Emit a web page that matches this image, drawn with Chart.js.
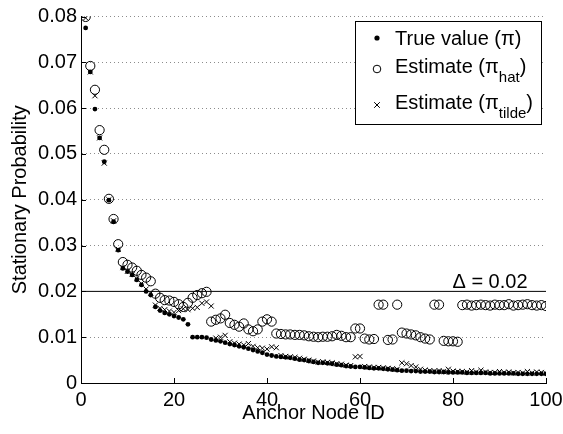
<!DOCTYPE html>
<html>
<head>
<meta charset="utf-8">
<script src="https://cdn.jsdelivr.net/npm/chart.js@4.4.0/dist/chart.umd.min.js"></script>
<style>
html,body{margin:0;padding:0;background:#fff;}
#wrap{width:563px;height:434px;}
</style>
</head>
<body>
<div id="wrap"><canvas id="c" width="563" height="434"></canvas></div>
<script>
// ---- data ----
const nodeIds = Array.from({length: 100}, (_, i) => i + 1);
const trueValue = [
0.0775,0.0679,0.0598,0.0535,0.0483,0.0399,0.0352,0.0290,0.0250,0.0243,
0.0236,0.0225,0.0214,0.0200,0.0192,0.0166,0.0158,0.0153,0.0150,0.0146,
0.0143,0.0139,0.0128,0.0100,0.0100,0.0100,0.0099,0.0095,0.0093,0.0091,
0.0088,0.0085,0.0083,0.0080,0.0078,0.0075,0.0072,0.0069,0.0066,0.0062,
0.0060,0.0058,0.0057,0.0056,0.0055,0.0053,0.0051,0.0050,0.0048,0.0046,
0.0044,0.0044,0.0043,0.0042,0.0040,0.0039,0.0037,0.0036,0.0035,0.0035,
0.0034,0.0033,0.0032,0.0032,0.0031,0.0030,0.0029,0.0028,0.0027,0.0027,
0.0026,0.0026,0.0025,0.0025,0.0025,0.0024,0.0024,0.0024,0.0023,0.0023,
0.0023,0.0023,0.0022,0.0022,0.0022,0.0022,0.0022,0.0021,0.0021,0.0021,
0.0021,0.0021,0.0021,0.0020,0.0020,0.0020,0.0020,0.0020,0.0020,0.0020
];
const estimateHat = [
0.0799,0.0692,0.0640,0.0552,0.0509,0.0402,0.0358,0.0303,0.0264,0.0258,
0.0252,0.0245,0.0236,0.0230,0.0222,0.0195,0.0186,0.0181,0.0180,0.0177,
0.0172,0.0166,0.0175,0.0186,0.0192,0.0196,0.0199,0.0134,0.0138,0.0141,
0.0149,0.0131,0.0127,0.0123,0.0130,0.0117,0.0113,0.0117,0.0134,0.0139,
0.0134,0.0108,0.0107,0.0106,0.0106,0.0105,0.0105,0.0104,0.0102,0.0101,
0.0100,0.0101,0.0101,0.0102,0.0105,0.0103,0.0100,0.0100,0.0119,0.0119,
0.0097,0.0095,0.0096,0.0171,0.0171,0.0094,0.0095,0.0171,0.0110,0.0108,
0.0106,0.0104,0.0100,0.0097,0.0095,0.0171,0.0171,0.0092,0.0091,0.0091,
0.0090,0.0170,0.0171,0.0169,0.0170,0.0171,0.0170,0.0169,0.0171,0.0170,
0.0170,0.0172,0.0169,0.0170,0.0171,0.0172,0.0170,0.0169,0.0170,0.0168
];
const estimateTilde = [
0.0797,0.0679,0.0627,0.0535,0.0480,0.0400,0.0354,0.0292,0.0252,0.0244,
0.0237,0.0228,0.0217,0.0205,0.0196,0.0170,0.0163,0.0160,0.0157,0.0154,
0.0158,0.0162,0.0160,0.0163,0.0165,0.0174,0.0177,0.0168,0.0098,0.0100,
0.0104,0.0090,0.0087,0.0085,0.0083,0.0086,0.0080,0.0077,0.0076,0.0074,
0.0079,0.0077,0.0060,0.0058,0.0057,0.0056,0.0054,0.0052,0.0050,0.0048,
0.0046,0.0046,0.0045,0.0044,0.0042,0.0041,0.0039,0.0038,0.0057,0.0058,
0.0036,0.0035,0.0034,0.0034,0.0033,0.0032,0.0031,0.0030,0.0044,0.0042,
0.0038,0.0035,0.0030,0.0028,0.0027,0.0026,0.0027,0.0025,0.0030,0.0026,
0.0025,0.0025,0.0024,0.0027,0.0024,0.0028,0.0024,0.0023,0.0023,0.0025,
0.0023,0.0024,0.0022,0.0023,0.0022,0.0025,0.0022,0.0024,0.0023,0.0021
];
const deltaValue = 0.02;
const deltaLabel = '\u0394 = 0.02';
const xTicks = [0, 20, 40, 60, 80, 100];
const yTicks = [0, 0.01, 0.02, 0.03, 0.04, 0.05, 0.06, 0.07, 0.08];
const legendLabels = [
  {main: 'True value (\u03c0)', sub: null},
  {main: 'Estimate (\u03c0', sub: 'hat'},
  {main: 'Estimate (\u03c0', sub: 'tilde'}
];

const FONT = '"Liberation Sans", Arial, Helvetica, sans-serif';
const toPts = arr => arr.map((v, i) => ({x: nodeIds[i], y: v}));

// ---- plugins ----
const extras = {
  id: 'extras',
  afterDatasetsDraw(chart) {
    const ctx = chart.ctx;
    const xs = chart.scales.x, ys = chart.scales.y;
    const ca = chart.chartArea;
    ctx.save();
    // inward tick marks
    ctx.strokeStyle = '#000';
    ctx.lineWidth = 1;
    ctx.beginPath();
    yTicks.forEach(v => {
      const py = Math.round(ys.getPixelForValue(v)) + 0.5;
      ctx.moveTo(ca.left, py); ctx.lineTo(ca.left + 5, py);
    });
    xTicks.forEach(v => {
      const px = Math.round(xs.getPixelForValue(v)) + 0.5;
      ctx.moveTo(px, ca.bottom); ctx.lineTo(px, ca.bottom - 5);
    });
    ctx.stroke();
    // delta label
    ctx.fillStyle = '#000';
    ctx.font = '20px ' + FONT;
    ctx.textAlign = 'center';
    ctx.textBaseline = 'alphabetic';
    ctx.fillText(deltaLabel, ca.right - 56, ys.getPixelForValue(deltaValue) - 3);
    // legend box
    const bx = 355.5, by = 21.5, bw = 186, bh = 103;
    ctx.fillStyle = '#fff';
    ctx.fillRect(bx, by, bw, bh);
    ctx.strokeStyle = '#000';
    ctx.lineWidth = 1;
    ctx.strokeRect(bx, by, bw, bh);
    const mx = 377;
    const rows = [{my: 38, base: 45}, {my: 69, base: 73}, {my: 105, base: 109}];
    // markers
    ctx.fillStyle = '#000';
    ctx.beginPath(); ctx.arc(mx, rows[0].my, 2.6, 0, Math.PI * 2); ctx.fill();
    ctx.beginPath(); ctx.arc(mx, rows[1].my, 3.8, 0, Math.PI * 2); ctx.stroke();
    ctx.beginPath();
    ctx.moveTo(mx - 2.8, rows[2].my - 2.8); ctx.lineTo(mx + 2.8, rows[2].my + 2.8);
    ctx.moveTo(mx - 2.8, rows[2].my + 2.8); ctx.lineTo(mx + 2.8, rows[2].my - 2.8);
    ctx.stroke();
    // texts
    ctx.textAlign = 'left';
    legendLabels.forEach((lab, i) => {
      let x = 395;
      ctx.font = '20px ' + FONT;
      ctx.fillText(lab.main, x, rows[i].base);
      if (lab.sub) {
        x += ctx.measureText(lab.main).width;
        ctx.font = '15px ' + FONT;
        ctx.fillText(lab.sub, x, rows[i].base + 9);
        x += ctx.measureText(lab.sub).width;
        ctx.font = '20px ' + FONT;
        ctx.fillText(')', x, rows[i].base);
      }
    });
    ctx.restore();
  }
};

new Chart(document.getElementById('c'), {
  type: 'scatter',
  data: {
    datasets: [
      {
        label: 'Delta', type: 'line',
        data: [{x: xTicks[0], y: deltaValue}, {x: xTicks[xTicks.length - 1], y: deltaValue}],
        borderColor: '#000', borderWidth: 1, pointRadius: 0, fill: false, order: 4
      },
      {
        label: 'Estimate (pi_hat)', data: toPts(estimateHat),
        pointStyle: 'circle', pointRadius: 4.6, borderColor: '#000', borderWidth: 1,
        backgroundColor: 'rgba(0,0,0,0)', order: 3
      },
      {
        label: 'Estimate (pi_tilde)', data: toPts(estimateTilde),
        pointStyle: 'crossRot', pointRadius: 3.6, borderColor: '#000', borderWidth: 1,
        backgroundColor: '#000', order: 2
      },
      {
        label: 'True value (pi)', data: toPts(trueValue),
        pointStyle: 'circle', pointRadius: 2.4, borderColor: '#000', borderWidth: 0,
        backgroundColor: '#000', order: 1
      }
    ]
  },
  options: {
    responsive: false,
    animation: false,
    events: [],
    layout: {padding: {left: 0, right: 17, top: 16.5, bottom: 0}},
    plugins: {legend: {display: false}, tooltip: {enabled: false}},
    scales: {
      x: {
        type: 'linear', min: 0, max: 100,
        afterFit(s) { s.height = 51; s.paddingRight = 0; s.paddingLeft = 0; },
        afterBuildTicks(s) { s.ticks = xTicks.map(v => ({value: v})); },
        ticks: {color: '#000', font: {family: FONT, size: 20}, padding: 5, maxRotation: 0,
                callback: v => String(v)},
        grid: {display: false, drawTicks: false, tickLength: 0},
        border: {display: true, color: '#000', width: 1},
        title: {display: true, text: 'Anchor Node ID', color: '#000',
                font: {family: FONT, size: 20}, padding: {top: 0, bottom: 9}}
      },
      y: {
        type: 'linear', min: 0, max: 0.08,
        afterFit(s) { s.width = 81; s.paddingTop = 0; s.paddingBottom = 0; },
        afterBuildTicks(s) { s.ticks = yTicks.map(v => ({value: v})); },
        ticks: {color: '#000', font: {family: FONT, size: 20}, padding: 4,
                callback: v => (v === 0 ? '0' : v.toFixed(2))},
        grid: {
          drawTicks: false, tickLength: 0, lineWidth: 1,
          color: c => (c.tick && (Math.abs(c.tick.value - deltaValue) < 1e-9 || c.tick.value === 0)) ? 'rgba(0,0,0,0)' : '#8c8c8c'
        },
        border: {display: true, color: '#000', width: 1, dash: [1, 3]},
        title: {display: true, text: 'Stationary Probability', color: '#000',
                font: {family: FONT, size: 20}, padding: {top: 8, bottom: 0}}
      }
    }
  },
  plugins: [extras]
});
</script>
</body>
</html>
